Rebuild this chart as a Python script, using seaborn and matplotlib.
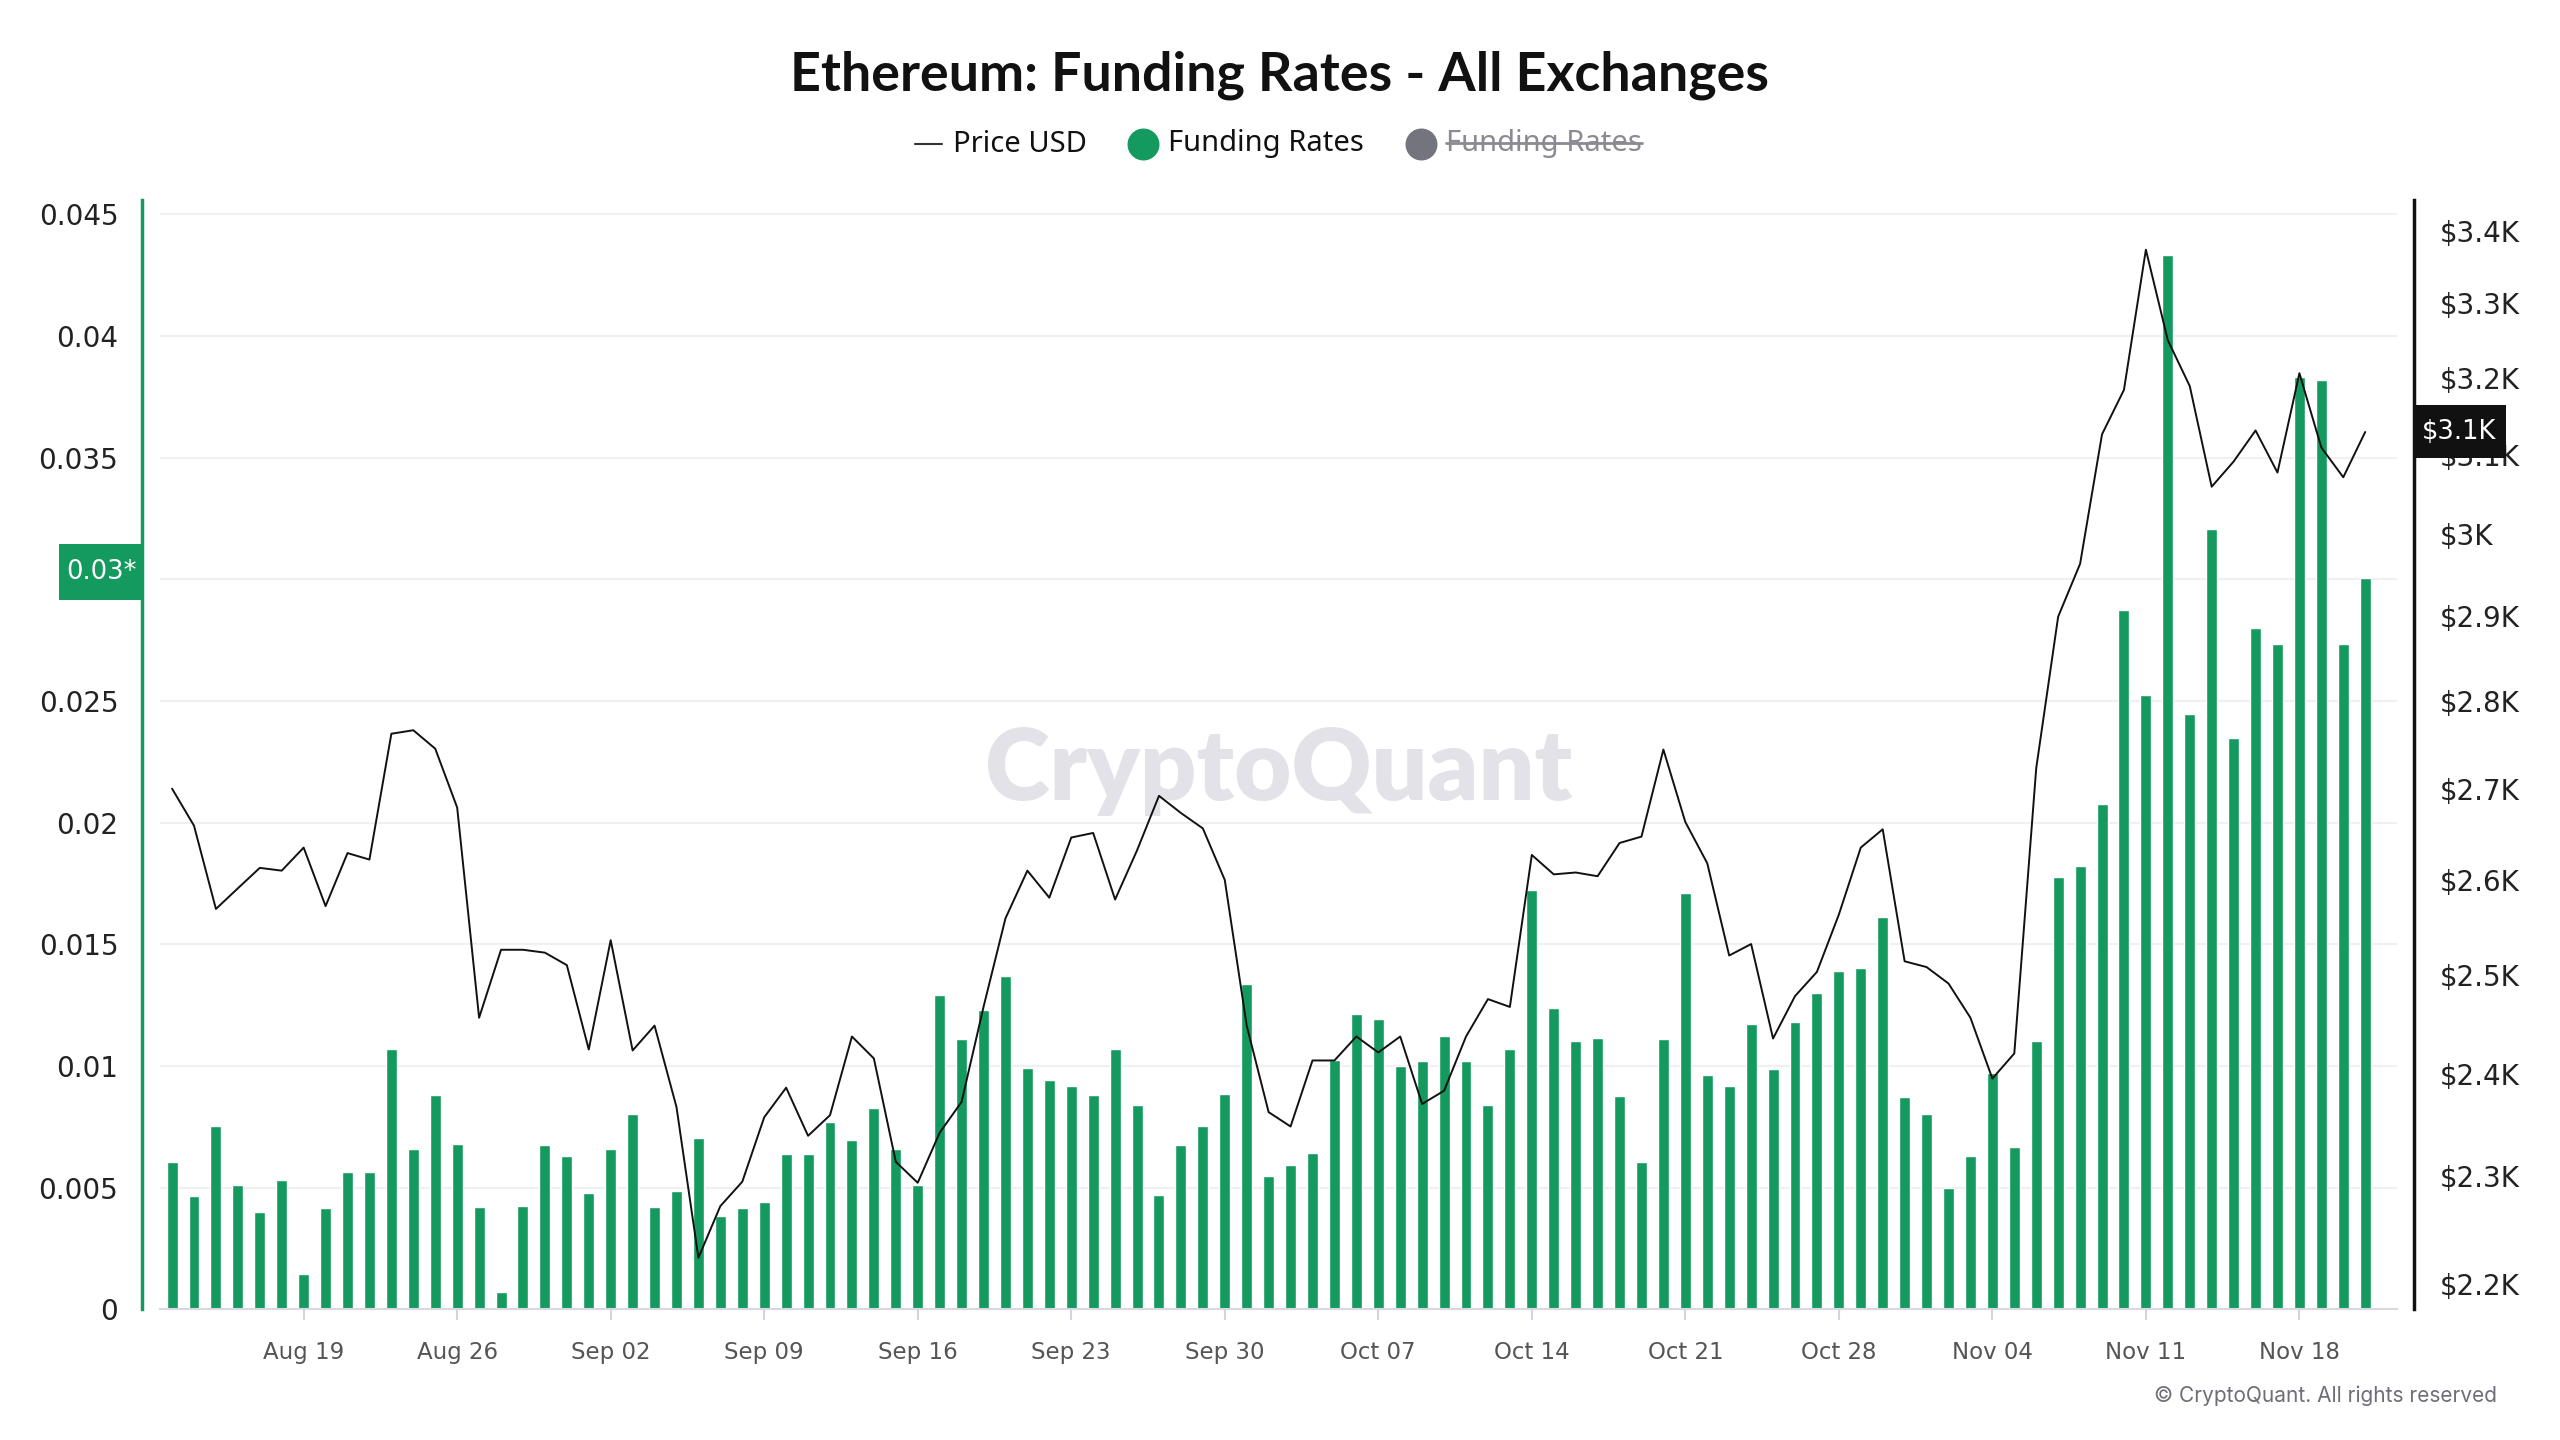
import numpy as np
import pandas as pd
import seaborn as sns
import matplotlib.pyplot as plt
from matplotlib.lines import Line2D
from matplotlib.patches import Rectangle
from matplotlib.ticker import NullLocator, FixedLocator

# daily values, Aug 13 -> Nov 21 (2024)
start_date = "2024-08-13"

funding_rates = [
    0.00607, 0.00464, 0.00755, 0.00510, 0.00400, 0.00531, 0.00146, 0.00416, 0.00564, 0.00564,
    0.01068, 0.00661, 0.00880, 0.00680, 0.00419, 0.00073, 0.00425, 0.00677, 0.00631, 0.00479,
    0.00661, 0.00801, 0.00419, 0.00485, 0.00704, 0.00382, 0.00416, 0.00440, 0.00637, 0.00637,
    0.00768, 0.00698, 0.00828, 0.00661, 0.00510, 0.01292, 0.01113, 0.01232, 0.01371, 0.00992,
    0.00944, 0.00919, 0.00880, 0.01068, 0.00840, 0.00470, 0.00677, 0.00755, 0.00886, 0.01338,
    0.00549, 0.00592, 0.00643, 0.01025, 0.01214, 0.01192, 0.01001, 0.01022, 0.01123, 0.01022,
    0.00840, 0.01068, 0.01723, 0.01238, 0.01101, 0.01117, 0.00877, 0.00607, 0.01113, 0.01711,
    0.00962, 0.00916, 0.01174, 0.00989, 0.01180, 0.01299, 0.01390, 0.01402, 0.01614, 0.00871,
    0.00804, 0.00498, 0.00631, 0.00971, 0.00667, 0.01101, 0.01778, 0.01823, 0.02078, 0.02873,
    0.02524, 0.04330, 0.02445, 0.03207, 0.02348, 0.02800, 0.02734, 0.03829, 0.03817, 0.02734,
    0.03004,
]

price_usd = [
    2700, 2659, 2569, 2591, 2613, 2610, 2635, 2572, 2629, 2622,
    2762, 2766, 2745, 2679, 2456, 2526, 2526, 2523, 2510, 2424,
    2536, 2423, 2448, 2367, 2224, 2272, 2295, 2357, 2386, 2339,
    2359, 2437, 2415, 2314, 2294, 2342, 2372, 2467, 2559, 2610,
    2581, 2646, 2651, 2579, 2632, 2692, 2673, 2656, 2600, 2448,
    2362, 2348, 2413, 2413, 2437, 2421, 2437, 2370, 2383, 2437,
    2475, 2467, 2627, 2606, 2608, 2604, 2640, 2647, 2744, 2663,
    2618, 2520, 2532, 2435, 2478, 2503, 2563, 2635, 2655, 2514,
    2508, 2491, 2456, 2395, 2420, 2723, 2899, 2963, 3126, 3184,
    3374, 3250, 3189, 3059, 3091, 3131, 3077, 3206, 3109, 3071,
    3129,
]

x_tick_labels = ["Aug 19", "Aug 26", "Sep 02", "Sep 09", "Sep 16", "Sep 23", "Sep 30",
                 "Oct 07", "Oct 14", "Oct 21", "Oct 28", "Nov 04", "Nov 11", "Nov 18"]

# the 0.03 label sits under the "0.03*" badge in the source, so it is left blank
left_ticks = [0, 0.005, 0.01, 0.015, 0.02, 0.025, 0.03, 0.035, 0.04, 0.045]
left_labels = ["0", "0.005", "0.01", "0.015", "0.02", "0.025", "", "0.035", "0.04", "0.045"]

right_ticks = [2200, 2300, 2400, 2500, 2600, 2700, 2800, 2900, 3000, 3100, 3200, 3300, 3400]
right_labels = ["$2.2K", "$2.3K", "$2.4K", "$2.5K", "$2.6K", "$2.7K", "$2.8K", "$2.9K",
                "$3K", "$3.1K", "$3.2K", "$3.3K", "$3.4K"]

last_rate_label = "0.03*"
last_price_label = "$3.1K"

GREEN = "#149a5e"
W, H = 2560, 1440

dates = pd.date_range(start_date, periods=len(funding_rates))
df = pd.DataFrame({"day": np.arange(len(dates)), "date": dates,
                   "funding": funding_rates, "price": price_usd})
tick_pos = [int(df.loc[df["date"].dt.strftime("%b %d") == lab, "day"].iloc[0]) for lab in x_tick_labels]

sns.set_theme(style="white")
plt.rcParams["font.family"] = ["DejaVu Sans"]

fig = plt.figure(figsize=(25.6, 14.4), dpi=100)
ax = fig.add_axes([160 / W, 1 - 1309.4 / H, (2397 - 160) / W, (1309.4 - 200) / H])

sns.barplot(data=df, x="day", y="funding", ax=ax, color=GREEN, saturation=1,
            width=0.5, native_scale=True, zorder=2)
ax.set_xlim(-0.55, len(df) - 1 + 1.45)
ax.set_ylim(0, 0.04558)
ax.set_xlabel("")
ax.set_ylabel("")

ax.yaxis.set_major_locator(FixedLocator(left_ticks))
ax.set_yticklabels(left_labels)
ax.grid(axis="y", color="#f0f0f2", linewidth=1.5, zorder=0)
ax.set_axisbelow(True)
ax.tick_params(axis="y", length=0, pad=17, labelsize=20, labelcolor="#222222")

ax.set_xticks(tick_pos)
ax.set_xticklabels(x_tick_labels)
ax.tick_params(axis="x", length=8, width=1.5, color="#d4d4dc", pad=15,
               labelsize=16.5, labelcolor="#555555", direction="out", bottom=True)

for s in ["top", "right"]:
    ax.spines[s].set_visible(False)
ax.spines["left"].set_color(GREEN)
ax.spines["left"].set_linewidth(2.5)
ax.spines["left"].set_position(("outward", 13))
ax.spines["bottom"].set_color("#d8d8e0")
ax.spines["bottom"].set_linewidth(1.5)

# price line on log axis
ax2 = ax.twinx()
sns.lineplot(data=df, x="day", y="price", ax=ax2, color="#111111", linewidth=1.4)
ax2.set_yscale("log")
ax2.set_ylim(2177, 3444)
ax2.yaxis.set_major_locator(FixedLocator(right_ticks))
ax2.yaxis.set_minor_locator(NullLocator())
ax2.set_yticklabels(right_labels)
ax2.set_ylabel("")
ax2.tick_params(axis="y", length=0, pad=19, labelsize=20, labelcolor="#222222")
for s in ["top", "left", "bottom"]:
    ax2.spines[s].set_visible(False)
ax2.spines["right"].set_color("#111111")
ax2.spines["right"].set_linewidth(2.5)
ax2.spines["right"].set_position(("outward", 12))

# watermark
wm = ax.text(0.5, 0.485, "CryptoQuant", transform=ax.transAxes, ha="center", va="center",
             fontsize=68, fontweight="heavy", color="#e2e2e8", family="Lato", zorder=1)

# title and legend
title = fig.text(0.5, 1 - 75 / H, "Ethereum: Funding Rates - All Exchanges", ha="center",
                 va="center", fontsize=34, fontweight="bold", color="#111111", family="Lato")

ly = 1 - 144 / H
fs = 21
fig.add_artist(Line2D([915 / W, 942 / W], [ly, ly], transform=fig.transFigure,
                      color="#333333", linewidth=1.5))
fig.text(953 / W, ly, "Price USD", ha="left", va="center", fontsize=fs, color="#111111", family="Noto Sans")
fig.add_artist(Line2D([1143 / W], [ly], transform=fig.transFigure, marker="o",
                      markersize=22, color=GREEN, linestyle="none"))
fig.text(1168 / W, ly, "Funding Rates", ha="left", va="center", fontsize=fs, color="#111111", family="Noto Sans")
fig.add_artist(Line2D([1421 / W], [ly], transform=fig.transFigure, marker="o",
                      markersize=22, color="#74747e", linestyle="none"))
t3 = fig.text(1446 / W, ly, "Funding Rates", ha="left", va="center", fontsize=fs,
              color="#8a8a92", family="Noto Sans")

# fit title and watermark widths to the source
fig.canvas.draw()
r = fig.canvas.get_renderer()
title.set_fontsize(34 * 980 / title.get_window_extent(r).width)
wm.set_fontsize(68 * 588 / wm.get_window_extent(r).width)
fig.canvas.draw()

bb = t3.get_window_extent().transformed(fig.transFigure.inverted())
fig.add_artist(Line2D([bb.x0, bb.x1], [ly + 0.001, ly + 0.001], transform=fig.transFigure,
                      color="#8a8a92", linewidth=2))

# last value badges, placed at the data value of the last day
def badge(yfig_px, x0, x1, height, text, color):
    y0 = yfig_px - height / 2
    fig.add_artist(Rectangle((x0 / W, y0 / H), (x1 - x0) / W, height / H,
                             transform=fig.transFigure, fc=color, ec="none", zorder=10))
    fig.text((x0 + x1) / 2 / W, yfig_px / H, text, ha="center", va="center",
             color="white", fontsize=18.5, zorder=11)

y_rate = ax.transData.transform((0, df["funding"].iloc[-1]))[1] + 6
y_price = ax2.transData.transform((0, df["price"].iloc[-1]))[1]
badge(y_rate, 59, 144, 56, last_rate_label, GREEN)
badge(y_price, 2413, 2506, 53, last_price_label, "#111111")

fig.text(2497 / W, 1 - 1396 / H, "\u00a9 CryptoQuant. All rights reserved", ha="right",
         va="center", fontsize=15, color="#6e6e78", family="Inter")

fig.savefig("out.png", dpi=100, facecolor="white")
